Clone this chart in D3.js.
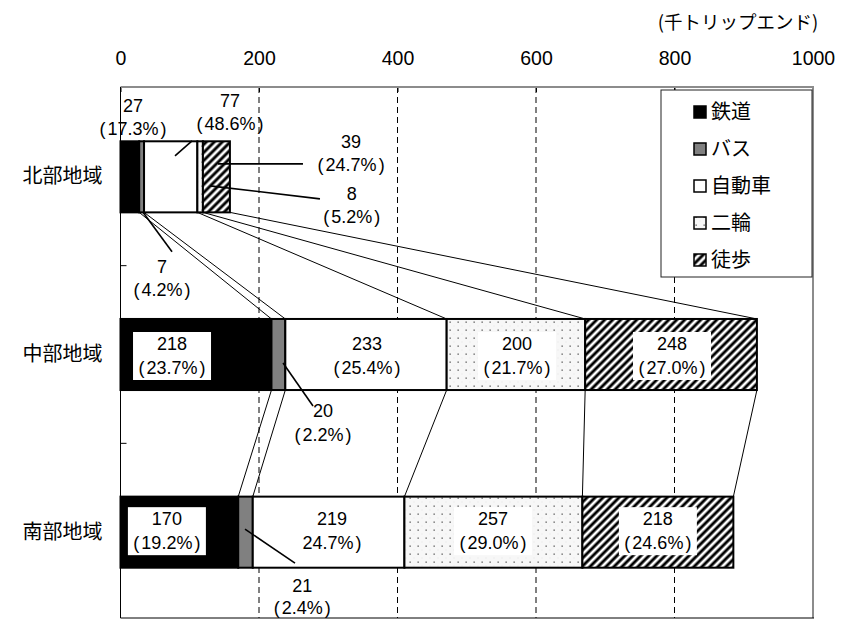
<!DOCTYPE html>
<html>
<head>
<meta charset="utf-8">
<script src="https://cdn.jsdelivr.net/npm/d3@7"></script>
<style>
  body { margin: 0; background: #fff; }
  svg { display: block; }
</style>
</head>
<body>
<svg id="chart" width="842" height="621"></svg>
<script>
// Trips by mode and region (thousand trip-ends)
const regions = ["北部地域", "中部地域", "南部地域"];
const modes = ["鉄道", "バス", "自動車", "二輪", "徒歩"];
const railTrips = [27, 218, 170];
const busTrips = [7, 20, 21];
const carTrips = [77, 233, 219];
const bikeTrips = [8, 200, 257];
const walkTrips = [39, 248, 218];
const railShare = ["17.3", "23.7", "19.2"];
const busShare = ["4.2", "2.2", "2.4"];
const carShare = ["48.6", "25.4", "24.7"];
const bikeShare = ["5.2", "21.7", "29.0"];
const walkShare = ["24.7", "27.0", "24.6"];
const xTickValues = [0, 200, 400, 600, 800, 1000];
const unitLabel = "(千トリップエンド)";

const seriesValues = [railTrips, busTrips, carTrips, bikeTrips, walkTrips];
const seriesShares = [railShare, busShare, carShare, bikeShare, walkShare];

// Label placement: `at` is a position on the value axis, `dy` is an offset from the bar centre,
// `gap` the spacing between the value line and the share line.
// Leaders are given as [value, dy] pairs.
const labelLayout = {
  "0-0": { at: 18, dy: -65 },
  "0-1": { at: 60, dy: 96, leader: [[32.5, 35.5], [74.4, 75]] },
  "0-2": { at: 158, dy: -70, leader: [[78.7, -21], [103.3, -36]] },
  "0-3": { at: 334, dy: 23, leader: [[129.2, 9], [288, 22]] },
  "0-4": { at: 333, dy: -29, leader: [[140.8, -13], [263.5, -13]] },
  "1-0": { at: 74.4, dy: -4.5, box: true },
  "1-1": { at: 292.4, dy: 62.5, leader: [[234.7, 8.5], [278, 51.5]] },
  "1-2": { at: 356, dy: -4.5 },
  "1-3": { at: 572.6, dy: -4.5, box: true },
  "1-4": { at: 796.4, dy: -4.5, box: true },
  "2-0": { at: 67, dy: -7, box: true },
  "2-1": { at: 262.5, dy: 60, gap: 22, leader: [[179.8, -3], [252, 31]] },
  "2-2": { at: 305.4, dy: -7, noOpen: true },
  "2-3": { at: 538, dy: -7, box: true },
  "2-4": { at: 776, dy: -7, box: true }
};

const numFont = "'Liberation Sans', Arial, 'Noto Sans CJK JP', sans-serif";
const jpFont = "'Noto Sans CJK JP', 'Liberation Sans', sans-serif";

const frame = { left: 120.5, right: 813, top: 87, bottom: 618 };

const svg = d3.select("#chart");

const x = d3.scaleLinear().domain([0, 1000]).range([frame.left, frame.right]);
const y = d3.scaleBand().domain(regions).range([88, 621]).paddingInner(0.6).paddingOuter(0.3);
const bw = y.bandwidth();
const cy = r => y(r) + bw / 2;

// ---- fill patterns
const defs = svg.append("defs");
const hatch = defs.append("pattern")
  .attr("id", "hatch").attr("patternUnits", "userSpaceOnUse")
  .attr("width", 5.66).attr("height", 5.66)
  .attr("patternTransform", "rotate(45)");
hatch.append("rect").attr("width", 5.66).attr("height", 5.66).attr("fill", "#fff");
hatch.append("line").attr("x1", 2.83).attr("x2", 2.83).attr("y1", -1).attr("y2", 7)
  .attr("stroke", "#000").attr("stroke-width", 2.9);

const dots = defs.append("pattern")
  .attr("id", "dots").attr("patternUnits", "userSpaceOnUse")
  .attr("width", 8).attr("height", 8);
dots.append("rect").attr("width", 8).attr("height", 8).attr("fill", "#f7f7f7");
dots.append("rect").attr("x", 1.5).attr("y", 1.5).attr("width", 1.3).attr("height", 1.3).attr("fill", "#555");
dots.append("rect").attr("x", 5.5).attr("y", 5.5).attr("width", 1).attr("height", 1).attr("fill", "#e4e4e4");

const modeFill = ["#000", "#808080", "#fff", "url(#dots)", "url(#hatch)"];

// ---- stacked segments
const rows = regions.map((r, i) => {
  let acc = 0;
  return seriesValues.map((vals, m) => {
    const s = acc;
    acc += vals[i];
    return { region: r, ri: i, mi: m, start: s, end: acc, value: vals[i], share: seriesShares[m][i] };
  });
});

// ---- gridlines
svg.append("g").selectAll("line")
  .data(xTickValues.filter(v => v > 0 && v < 1000))
  .join("line")
  .attr("x1", d => x(d)).attr("x2", d => x(d))
  .attr("y1", frame.top).attr("y2", frame.bottom)
  .attr("stroke", "#000").attr("stroke-width", 1)
  .attr("stroke-dasharray", "6,4");

// ---- top value axis
const xAxis = d3.axisTop(x).tickValues(xTickValues).tickSize(-5).tickPadding(22).tickFormat(d3.format("d"));
const gx = svg.append("g").attr("transform", `translate(0,${frame.top})`).call(xAxis);
gx.select(".domain").remove();
gx.selectAll(".tick line").attr("stroke", "#000");
gx.selectAll(".tick text").attr("font-family", numFont).attr("font-size", 19.5).attr("fill", "#000");

svg.append("text")
  .attr("x", 738).attr("y", 29)
  .attr("text-anchor", "middle")
  .attr("font-family", jpFont).attr("font-size", 18.5)
  .text(unitLabel);

// ---- series lines joining the boundaries of neighbouring bars
const joins = [];
for (let i = 0; i < regions.length - 1; i++) {
  rows[i].forEach((seg, m) => {
    joins.push({ x1: x(seg.end), y1: y(regions[i]) + bw, x2: x(rows[i + 1][m].end), y2: y(regions[i + 1]) });
  });
}
svg.append("g").selectAll("line").data(joins).join("line")
  .attr("x1", d => d.x1).attr("y1", d => d.y1)
  .attr("x2", d => d.x2).attr("y2", d => d.y2)
  .attr("stroke", "#000").attr("stroke-width", 1);

// ---- bars
svg.append("g").selectAll("rect")
  .data(rows.flat())
  .join("rect")
  .attr("x", d => x(d.start))
  .attr("y", d => y(d.region))
  .attr("width", d => x(d.end) - x(d.start))
  .attr("height", bw)
  .attr("fill", d => modeFill[d.mi])
  .attr("stroke", "#000")
  .attr("stroke-width", 2);

// ---- data labels
const labels = rows.flat().map(d => ({ ...d, lay: labelLayout[`${d.ri}-${d.mi}`] }));

svg.append("g").selectAll("path")
  .data(labels.filter(d => d.lay.leader))
  .join("path")
  .attr("d", d => d3.line()(d.lay.leader.map(([v, o]) => [x(v), cy(d.region) + o])))
  .attr("fill", "none").attr("stroke", "#000").attr("stroke-width", 1.6);

svg.append("g").selectAll("rect")
  .data(labels.filter(d => d.lay.box))
  .join("rect")
  .attr("x", d => x(d.lay.at) - 39)
  .attr("y", d => cy(d.region) + d.lay.dy - 18)
  .attr("width", 78).attr("height", 48)
  .attr("fill", "#fff");

const lg = svg.append("g").attr("font-family", numFont).attr("font-size", 18).attr("fill", "#000");
labels.forEach(d => {
  const lx = x(d.lay.at);
  const ly = cy(d.region) + d.lay.dy;
  lg.append("text").attr("x", lx).attr("y", ly).attr("text-anchor", "middle").text(d.value);
  const t = lg.append("text").attr("x", lx).attr("y", ly + (d.lay.gap || 23.5)).attr("text-anchor", "middle");
  if (!d.lay.noOpen) t.append("tspan").text("(");
  t.append("tspan").attr("dx", d.lay.noOpen ? 0 : 2).text(d.share + "%");
  t.append("tspan").attr("dx", 2).text(")");
});

// ---- category axis
const yAxis = d3.axisLeft(y).tickSize(0).tickPadding(18);
const gy = svg.append("g").attr("transform", `translate(${frame.left},0)`).call(yAxis);
gy.select(".domain").remove();
gy.selectAll(".tick text").attr("font-family", jpFont).attr("font-size", 20).attr("fill", "#000");

const step = y.step();
svg.append("g").selectAll("line")
  .data(regions.slice(1))
  .join("line")
  .attr("x1", frame.left).attr("x2", frame.left + 6)
  .attr("y1", d => y(d) - step * y.paddingInner() / 2)
  .attr("y2", d => y(d) - step * y.paddingInner() / 2)
  .attr("stroke", "#000");

// ---- frame
svg.append("line").attr("x1", frame.left).attr("x2", frame.right + 1)
  .attr("y1", frame.top).attr("y2", frame.top).attr("stroke", "#8c8c8c").attr("stroke-width", 2);
svg.append("line").attr("x1", frame.right).attr("x2", frame.right)
  .attr("y1", frame.top).attr("y2", frame.bottom).attr("stroke", "#8c8c8c").attr("stroke-width", 2);
svg.append("line").attr("x1", frame.left).attr("x2", frame.left)
  .attr("y1", frame.top).attr("y2", frame.bottom).attr("stroke", "#000").attr("stroke-width", 1);
svg.append("line").attr("x1", frame.left).attr("x2", frame.right + 1)
  .attr("y1", frame.bottom).attr("y2", frame.bottom).attr("stroke", "#000").attr("stroke-width", 1);

// ---- legend
const legend = svg.append("g");
legend.append("rect")
  .attr("x", 661).attr("y", 90).attr("width", 151).attr("height", 187)
  .attr("fill", "#fff").attr("stroke", "#222").attr("stroke-width", 1);
const items = legend.selectAll("g.item").data(modes).join("g")
  .attr("class", "item")
  .attr("transform", (d, i) => `translate(694,${112 + i * 37})`);
items.append("rect")
  .attr("x", 0).attr("y", -6).attr("width", 12).attr("height", 12)
  .attr("fill", (d, i) => modeFill[i])
  .attr("stroke", "#000").attr("stroke-width", 1.5);
items.append("text")
  .attr("x", 17).attr("y", 7)
  .attr("font-family", jpFont).attr("font-size", 20).attr("fill", "#000")
  .text(d => d);
</script>
</body>
</html>
